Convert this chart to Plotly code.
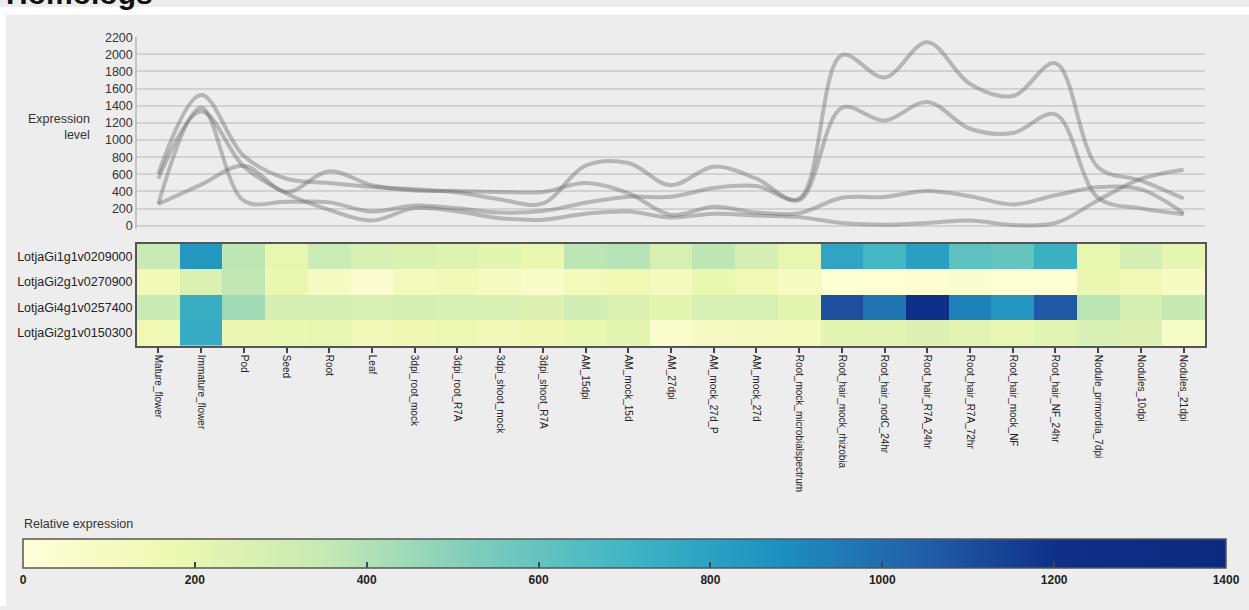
import plotly.graph_objects as go

W, H = 1249, 610

categories = ["Mature_flower", "Immature_flower", "Pod", "Seed", "Root", "Leaf",
              "3dpi_root_mock", "3dpi_root_R7A", "3dpi_shoot_mock", "3dpi_shoot_R7A",
              "AM_15dpi", "AM_mock_15d", "AM_27dpi", "AM_mock_27d_P", "AM_mock_27d",
              "Root_mock_microbialspectrum", "Root_hair_mock_rhizobia", "Root_hair_nodC_24hr",
              "Root_hair_R7A_24hr", "Root_hair_R7A_72hr", "Root_hair_mock_NF", "Root_hair_NF_24hr",
              "Nodule_primordia_7dpi", "Nodules_10dpi", "Nodules_21dpi"]

genes = ["LotjaGi1g1v0209000", "LotjaGi2g1v0270900", "LotjaGi4g1v0257400", "LotjaGi2g1v0150300"]

# expression level lines (top panel)
line_a = [605, 1524, 815, 548, 498, 452, 425, 387, 306, 260, 700, 731, 471, 689, 548, 299,
          1375, 1226, 1444, 1131, 1081, 1299, 325, 202, 134]
line_b = [253, 1379, 291, 280, 272, 165, 235, 203, 153, 172, 268, 337, 337, 440, 463, 318,
          1990, 1730, 2140, 1654, 1513, 1895, 680, 527, 317]
line_c = [253, 479, 700, 394, 636, 471, 410, 406, 394, 394, 498, 380, 126, 222, 153, 146,
          325, 336, 405, 344, 248, 355, 450, 424, 145]
line_d = [548, 1333, 690, 375, 184, 61, 205, 165, 88, 69, 140, 165, 95, 140, 118, 100,
          31, 11, 31, 61, 8, 31, 298, 546, 653]
lines = [line_a, line_b, line_c, line_d]

# relative expression heatmap (rows = genes)
heat_1 = [340, 840, 370, 195, 330, 270, 260, 245, 215, 190, 375, 390, 275, 370, 285, 195,
          785, 690, 810, 620, 595, 730, 190, 290, 205]
heat_2 = [150, 260, 360, 190, 90, 40, 135, 150, 95, 75, 135, 160, 120, 190, 140, 90,
          25, 20, 30, 50, 25, 25, 185, 150, 100]
heat_3 = [335, 740, 440, 290, 290, 275, 285, 280, 270, 255, 305, 260, 215, 270, 275, 215,
          1100, 975, 1200, 925, 845, 1065, 380, 285, 350]
heat_4 = [160, 750, 185, 190, 195, 140, 170, 180, 145, 165, 190, 215, 60, 95, 115, 120,
          215, 220, 255, 220, 195, 225, 270, 255, 85]
heat = [heat_1, heat_2, heat_3, heat_4]

y_ticks = list(range(0, 2201, 200))
cb_ticks = list(range(0, 1401, 200))

colorscale = [
    [0.0, "#ffffd9"], [0.125, "#edf8b1"], [0.25, "#c7e9b4"], [0.375, "#7fcdbb"],
    [0.5, "#41b6c4"], [0.625, "#1d91c0"], [0.75, "#225ea8"], [0.86, "#0f2f88"],
    [1.0, "#0b2a7f"],
]

FONT = "Liberation Sans, Arial, sans-serif"


def px_x(p):
    return p / W


def px_y(p):
    return 1 - p / H


fig = go.Figure()

for vals in lines:
    fig.add_trace(go.Scatter(
        x=categories, y=vals, mode="lines",
        line=dict(color="rgba(110,110,110,0.43)", width=4, shape="spline", smoothing=1),
        xaxis="x", yaxis="y", showlegend=False, hoverinfo="skip",
    ))

fig.add_trace(go.Heatmap(
    z=heat, x=categories, y=genes, xaxis="x2", yaxis="y2",
    colorscale=colorscale, zmin=0, zmax=1400,
    colorbar=dict(
        orientation="h", x=px_x(23), xanchor="left", len=1203 / W, lenmode="fraction",
        y=px_y(542), yanchor="top", thickness=29, xpad=0, ypad=0,
        outlinecolor="#555", outlinewidth=1.5,
        tickvals=cb_ticks, ticks="inside", ticklen=6, tickcolor="#444", tickwidth=1.5,
        tickfont=dict(family=FONT, size=12, color="#222", weight="bold"),
    ),
    hoverinfo="skip",
))

x_dom = [px_x(137), px_x(1205)]

fig.update_layout(
    width=W, height=H,
    margin=dict(l=0, r=0, t=0, b=0),
    paper_bgcolor="#ededed", plot_bgcolor="#ededed",
    font=dict(family=FONT, color="#333"),
    xaxis=dict(domain=x_dom, anchor="y", range=[-0.5, 24.5], showticklabels=False,
               showgrid=False, zeroline=False, showline=False, ticks="",
               categoryorder="array", categoryarray=categories),
    yaxis=dict(domain=[px_y(226.2), px_y(30.7)], anchor="x", range=[-40, 2200],
               tickvals=y_ticks, showgrid=True, gridcolor="#d2d2d2", gridwidth=1.5,
               zeroline=False, showline=True, linecolor="#c4c4c4", linewidth=1.5,
               ticks="", tickfont=dict(family=FONT, size=12.5, color="#333")),
    xaxis2=dict(domain=x_dom, anchor="y2", range=[-0.5, 24.5],
                categoryorder="array", categoryarray=categories,
                tickangle=90, tickfont=dict(family=FONT, size=10, color="#222"),
                ticks="outside", ticklen=5, tickcolor="#444", tickwidth=1.5,
                showline=True, mirror=True, linecolor="#555", linewidth=2, showgrid=False),
    yaxis2=dict(domain=[px_y(345), px_y(241)], anchor="x2", autorange="reversed",
                tickfont=dict(family=FONT, size=12.5, color="#222"), ticks="",
                showline=True, mirror=True, linecolor="#555", linewidth=2, showgrid=False),
    shapes=[
        dict(type="rect", xref="paper", yref="paper", x0=0, x1=1, y0=px_y(8), y1=1,
             fillcolor="white", line=dict(width=0), layer="above"),
        dict(type="rect", xref="paper", yref="paper", x0=0, x1=px_x(6), y0=0, y1=1,
             fillcolor="white", line=dict(width=0), layer="above"),
    ],
    annotations=[
        dict(text="Expression<br>level", xref="paper", yref="paper",
             x=px_x(92), y=px_y(122), xanchor="right", yanchor="middle", align="right",
             showarrow=False, font=dict(family=FONT, size=12.5, color="#333")),
        dict(text="Relative expression", xref="paper", yref="paper",
             x=px_x(22), y=px_y(527), xanchor="left", yanchor="middle", align="left",
             showarrow=False, font=dict(family=FONT, size=12.5, color="#333")),
        dict(text="<b>Homologs</b>", xref="paper", yref="paper",
             x=px_x(4), y=px_y(5), xanchor="left", yanchor="bottom",
             showarrow=False, font=dict(family=FONT, size=30, color="#111")),
    ],
)

fig.write_html("out.html", config={"displayModeBar": False},
               post_script="document.body.style.margin='0';document.body.style.overflow='hidden';")
